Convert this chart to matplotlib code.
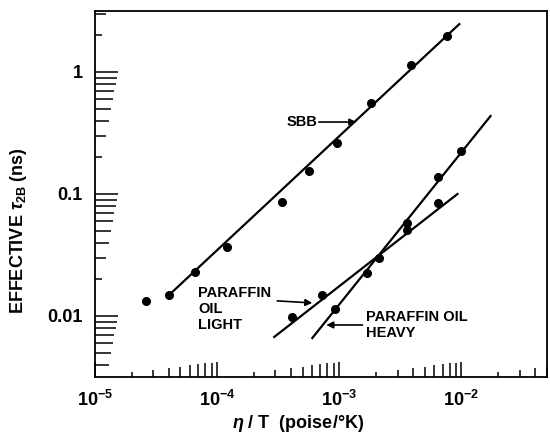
import numpy as np
import matplotlib
matplotlib.use("Agg")
import matplotlib.pyplot as plt
from matplotlib.ticker import LogLocator, NullFormatter, FixedLocator

plt.rcParams['font.family'] = ['Liberation Sans', 'DejaVu Sans']
plt.rcParams['font.weight'] = 'bold'
plt.rcParams['mathtext.fontset'] = 'custom'
plt.rcParams['mathtext.rm'] = 'Liberation Sans:bold'
plt.rcParams['mathtext.it'] = 'Liberation Sans:italic:bold'
plt.rcParams['mathtext.bf'] = 'Liberation Sans:bold'

# ---- data (eta/T in poise/K, effective tau_2B in ns) ----
sbb_x = [2.62e-5, 4.05e-5, 6.6e-5, 1.21e-4, 3.41e-4, 5.68e-4, 9.64e-4, 1.83e-3, 3.89e-3, 7.67e-3]
sbb_y = [0.0133, 0.0149, 0.023, 0.0368, 0.086, 0.154, 0.262, 0.557, 1.14, 1.97]
sbb_fit_x = [4.05e-5, 9.6e-3]
sbb_fit_y = [0.0149, 2.47]

heavy_x = [9.27e-4, 1.70e-3, 3.61e-3, 6.48e-3, 9.82e-3]
heavy_y = [0.0114, 0.0225, 0.0578, 0.138, 0.225]
heavy_fit_x = [6.01e-4, 1.73e-2]
heavy_fit_y = [0.0066, 0.436]

light_x = [4.12e-4, 7.26e-4, 2.13e-3, 3.61e-3, 6.48e-3]
light_y = [0.0098, 0.0149, 0.0299, 0.0507, 0.0844]
light_fit_x = [2.93e-4, 9.27e-3]
light_fit_y = [0.00673, 0.1]

xticks = [1e-5, 1e-4, 1e-3, 1e-2]
xticklabels = [r'$10^{-5}$', r'$10^{-4}$', r'$10^{-3}$', r'$10^{-2}$']
yticks = [0.01, 0.1, 1]
yticklabels = ['0.01', '0.1', '1']

fig = plt.figure(figsize=(5.5, 4.32), dpi=100)
ax = fig.add_axes([95/550, 1-377/432, 452/550, 366/432])
ax.set_xscale('log')
ax.set_yscale('log')
ax.set_xlim(1e-5, 10**-1.3)
ax.set_ylim(10**-2.5, 10**0.5)

lw = 1.6
ms = 5.5
ax.plot(sbb_fit_x, sbb_fit_y, color='black', lw=lw)
ax.plot(heavy_fit_x, heavy_fit_y, color='black', lw=lw)
ax.plot(light_fit_x, light_fit_y, color='black', lw=lw)
ax.plot(sbb_x, sbb_y, 'o', color='black', ms=ms)
ax.plot(heavy_x, heavy_y, 'o', color='black', ms=ms)
ax.plot(light_x, light_y, 'o', color='black', ms=ms)

for s in ax.spines.values():
    s.set_linewidth(1.3)

ax.xaxis.set_major_locator(FixedLocator(xticks))
ax.set_xticklabels(xticklabels)
ax.yaxis.set_major_locator(FixedLocator(yticks))
ax.set_yticklabels(yticklabels)
ax.xaxis.set_minor_locator(LogLocator(base=10, subs=np.arange(2, 10), numticks=20))
ax.yaxis.set_minor_locator(LogLocator(base=10, subs=np.arange(2, 10), numticks=20))
ax.xaxis.set_minor_formatter(NullFormatter())
ax.yaxis.set_minor_formatter(NullFormatter())

px = 72 / 100.0
XMAJ = 15 * px
YMAJ = 23 * px
ax.tick_params(axis='x', which='both', direction='in', width=1.1, labelsize=13, pad=9)
ax.tick_params(axis='y', which='both', direction='in', width=1.1, labelsize=13, pad=9)
ax.tick_params(axis='x', which='major', length=XMAJ)
ax.tick_params(axis='y', which='major', length=YMAJ)

def set_minor_lengths(axis, maxlen):
    locs = axis.get_minorticklocs()
    ticks = axis.get_minor_ticks(len(locs))
    for loc, t in zip(locs, ticks):
        mant = loc / 10 ** np.floor(np.log10(loc) + 1e-9)
        t.tick1line.set_markersize(maxlen * np.log10(mant))

set_minor_lengths(ax.xaxis, XMAJ)
set_minor_lengths(ax.yaxis, YMAJ)

# labels
ax.set_xlabel(r'$\eta$ / T  (poise/°K)', fontsize=13, fontweight='bold')
ax.xaxis.set_label_coords((298 - 95) / 452, (377 - 423) / 366)
ax.xaxis.label.set_va('center')
ax.set_ylabel(r'EFFECTIVE $\tau_{\mathrm{2B}}$ (ns)', fontsize=13, fontweight='bold')
ax.yaxis.set_label_coords((19 - 95) / 452, (377 - 231) / 366)
ax.yaxis.label.set_va('center')

# annotations
tfs = 10.5
ax.text(6.6e-4, 0.389, 'SBB', fontsize=tfs, fontweight='bold', ha='right', va='center')
ax.annotate('', xy=(1.38e-3, 0.389), xytext=(6.8e-4, 0.389),
            arrowprops=dict(arrowstyle='-|>', color='black', lw=1.2, mutation_scale=10,
                            shrinkA=0, shrinkB=0))
ax.text(6.98e-5, 0.0176, 'PARAFFIN\nOIL\nLIGHT', fontsize=tfs, fontweight='bold',
        ha='left', va='top', linespacing=1.2)
ax.annotate('', xy=(6.01e-4, 0.0128), xytext=(3.10e-4, 0.0133),
            arrowprops=dict(arrowstyle='-|>', color='black', lw=1.2, mutation_scale=10,
                            shrinkA=0, shrinkB=0))
ax.text(1.66e-3, 0.0112, 'PARAFFIN OIL\nHEAVY', fontsize=tfs, fontweight='bold',
        ha='left', va='top', linespacing=1.15)
ax.annotate('', xy=(7.82e-4, 0.00844), xytext=(1.55e-3, 0.00844),
            arrowprops=dict(arrowstyle='-|>', color='black', lw=1.2, mutation_scale=10,
                            shrinkA=0, shrinkB=0))

fig.savefig('out.png', dpi=100)
